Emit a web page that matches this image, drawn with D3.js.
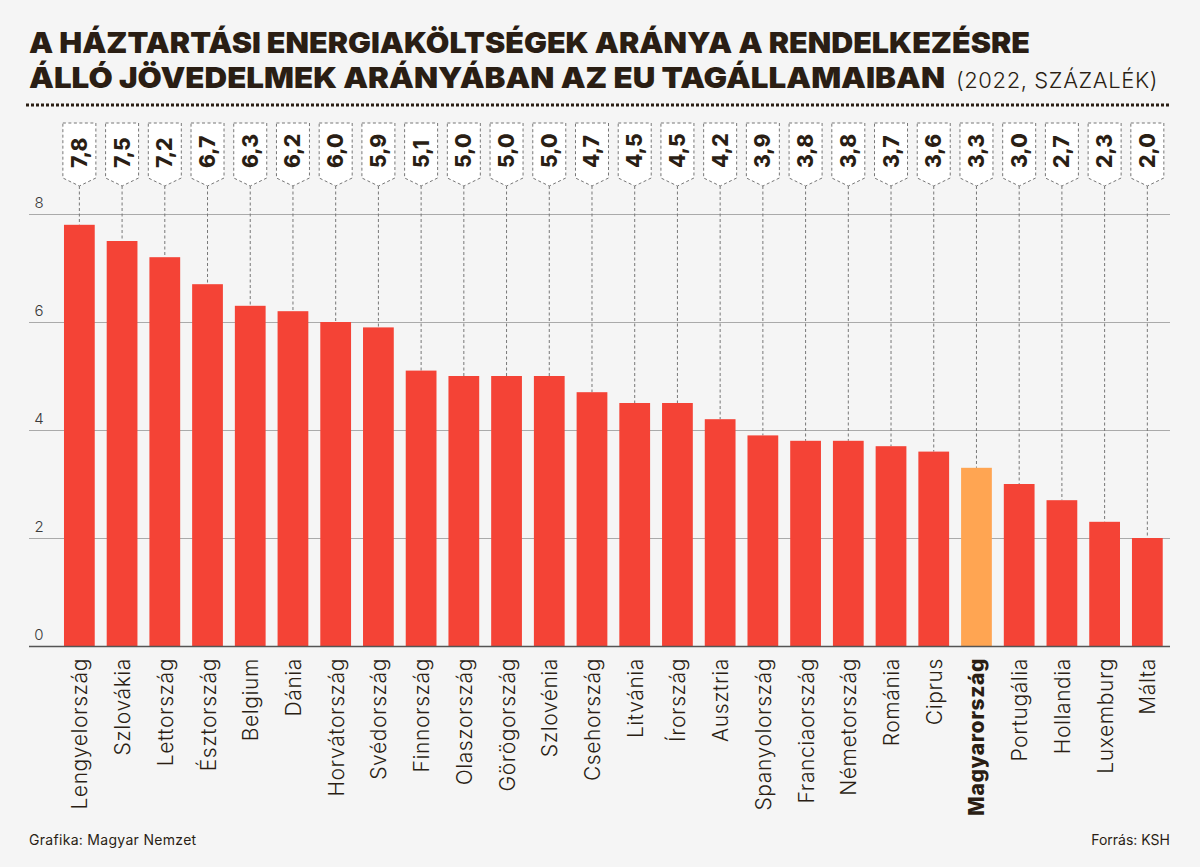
<!DOCTYPE html>
<html>
<head>
<meta charset="utf-8">
<script src="https://cdn.jsdelivr.net/npm/d3@7/dist/d3.min.js"></script>
<style>
html, body { margin: 0; padding: 0; background: #f5f5f5; }
svg { display: block; font-family: Inter, "Noto Sans", sans-serif; }
</style>
</head>
<body>
<div id="chart"></div>
<script>
const countries = ["Lengyelország", "Szlovákia", "Lettország", "Észtország", "Belgium", "Dánia", "Horvátország", "Svédország", "Finnország", "Olaszország", "Görögország", "Szlovénia", "Csehország", "Litvánia", "Írország", "Ausztria", "Spanyolország", "Franciaország", "Németország", "Románia", "Ciprus", "Magyarország", "Portugália", "Hollandia", "Luxemburg", "Málta"];
const values = [7.8, 7.5, 7.2, 6.7, 6.3, 6.2, 6.0, 5.9, 5.1, 5.0, 5.0, 5.0, 4.7, 4.5, 4.5, 4.2, 3.9, 3.8, 3.8, 3.7, 3.6, 3.3, 3.0, 2.7, 2.3, 2.0];
const yTicks = [0, 2, 4, 6, 8];
const highlight = "Magyarország";
const titleLines = ["A HÁZTARTÁSI ENERGIAKÖLTSÉGEK ARÁNYA A RENDELKEZÉSRE", "ÁLLÓ JÖVEDELMEK ARÁNYÁBAN AZ EU TAGÁLLAMAIBAN"];
const subtitle = "(2022, SZÁZALÉK)";

const width = 1200, height = 867;
const ink = "#2a1e14";
const svg = d3.select("#chart").append("svg").attr("width", width).attr("height", height).style("background", "#f5f5f5");

let x = d3.scaleBand().domain(countries).range([58, 1168.7]).paddingInner(0.28).paddingOuter(0.14);
let y = d3.scaleLinear().domain([0, 8]).range([646, 214]);
const fmt = d => String(d3.format(".1f")(d)).replace(".", ",");

// title, stretched a bit because the original face is wider
svg.append("text").attr("x", 29).attr("y", 53).attr("fill", ink).attr("font-size", 29).attr("font-weight", 900)
    .attr("textLength", 1001).attr("lengthAdjust", "spacingAndGlyphs").text(titleLines[0]);
svg.append("text").attr("x", 29).attr("y", 88).attr("fill", ink).attr("font-size", 29).attr("font-weight", 900)
    .attr("textLength", 916).attr("lengthAdjust", "spacingAndGlyphs").text(titleLines[1]);
svg.append("text").attr("x", 956).attr("y", 88).attr("fill", ink).attr("font-size", 22).attr("font-weight", 300)
    .attr("letter-spacing", 0.6).text(subtitle);
svg.append("line").attr("x1", 26).attr("x2", 1169).attr("y1", 105).attr("y2", 105)
    .attr("stroke", ink).attr("stroke-width", 3).attr("stroke-dasharray", "3 2");

// grid
const yAxis = d3.axisLeft(y).tickValues(yTicks).tickSize(-1141).tickFormat(d3.format("d"));
const gy = svg.append("g").attr("transform", "translate(29,0)").call(yAxis);
gy.select(".domain").remove();
gy.selectAll(".tick line").attr("stroke", "#aaa").attr("stroke-width", 1);
gy.selectAll(".tick text").attr("x", 10).attr("dy", -7).attr("text-anchor", "middle").attr("fill", "#3a3a3a")
    .attr("font-size", 15).attr("font-family", "Inter").attr("font-weight", 300);

// leader lines
svg.append("g").selectAll("line").data(countries).enter().append("line")
    .attr("x1", d => x(d) + x.bandwidth() / 2).attr("x2", d => x(d) + x.bandwidth() / 2)
    .attr("y1", 186).attr("y2", (d, i) => y(values[i]))
    .attr("stroke", "#777").attr("stroke-width", 1).attr("stroke-dasharray", "3 2.5");

// bars
svg.append("g").selectAll("rect").data(countries).enter().append("rect")
    .attr("x", d => x(d)).attr("width", x.bandwidth())
    .attr("y", (d, i) => y(values[i])).attr("height", (d, i) => y(0) - y(values[i]))
    .attr("fill", d => d === highlight ? "#ffa552" : "#f44336");

// tags
const tag = svg.append("g").selectAll("g").data(countries).enter().append("g")
    .attr("transform", d => "translate(" + (x(d) + x.bandwidth() / 2) + ",0)");
tag.append("path").attr("d", "M -16.5 123 L 16.5 123 L 16.5 178 L 0 186 L -16.5 178 Z")
    .attr("fill", "#fff").attr("stroke", "#777").attr("stroke-width", 1).attr("stroke-dasharray", "3 2.5");
tag.append("text").attr("transform", "translate(7.5,168),rotate(-90)").attr("fill", ink)
    .attr("font-size", 21).attr("font-weight", 800).text((d, i) => fmt(values[i]));

// x axis
const xAxis = d3.axisBottom(x).tickSize(0);
const gx = svg.append("g").attr("transform", "translate(0,646)").call(xAxis);
gx.select(".domain").attr("d", "M29,0.5H1170").attr("stroke", "#555").attr("stroke-width", 1.5);
gx.selectAll(".tick text").attr("transform", "rotate(-90)").attr("text-anchor", "end")
    .attr("x", -12).attr("y", 0).attr("dy", 8).attr("fill", ink).attr("font-size", 21).attr("letter-spacing", 0.6)
    .attr("font-family", "Inter").attr("font-weight", d => d === highlight ? 800 : 300);

// footer
svg.append("text").attr("x", 29).attr("y", 845).attr("fill", ink).attr("font-size", 14).attr("font-weight", 400)
    .attr("letter-spacing", 0.3).text("Grafika: Magyar Nemzet");
svg.append("text").attr("x", 1170).attr("y", 845).attr("text-anchor", "end").attr("fill", ink).attr("font-size", 14).attr("font-weight", 400).text("Forrás: KSH");
</script>
</body>
</html>
